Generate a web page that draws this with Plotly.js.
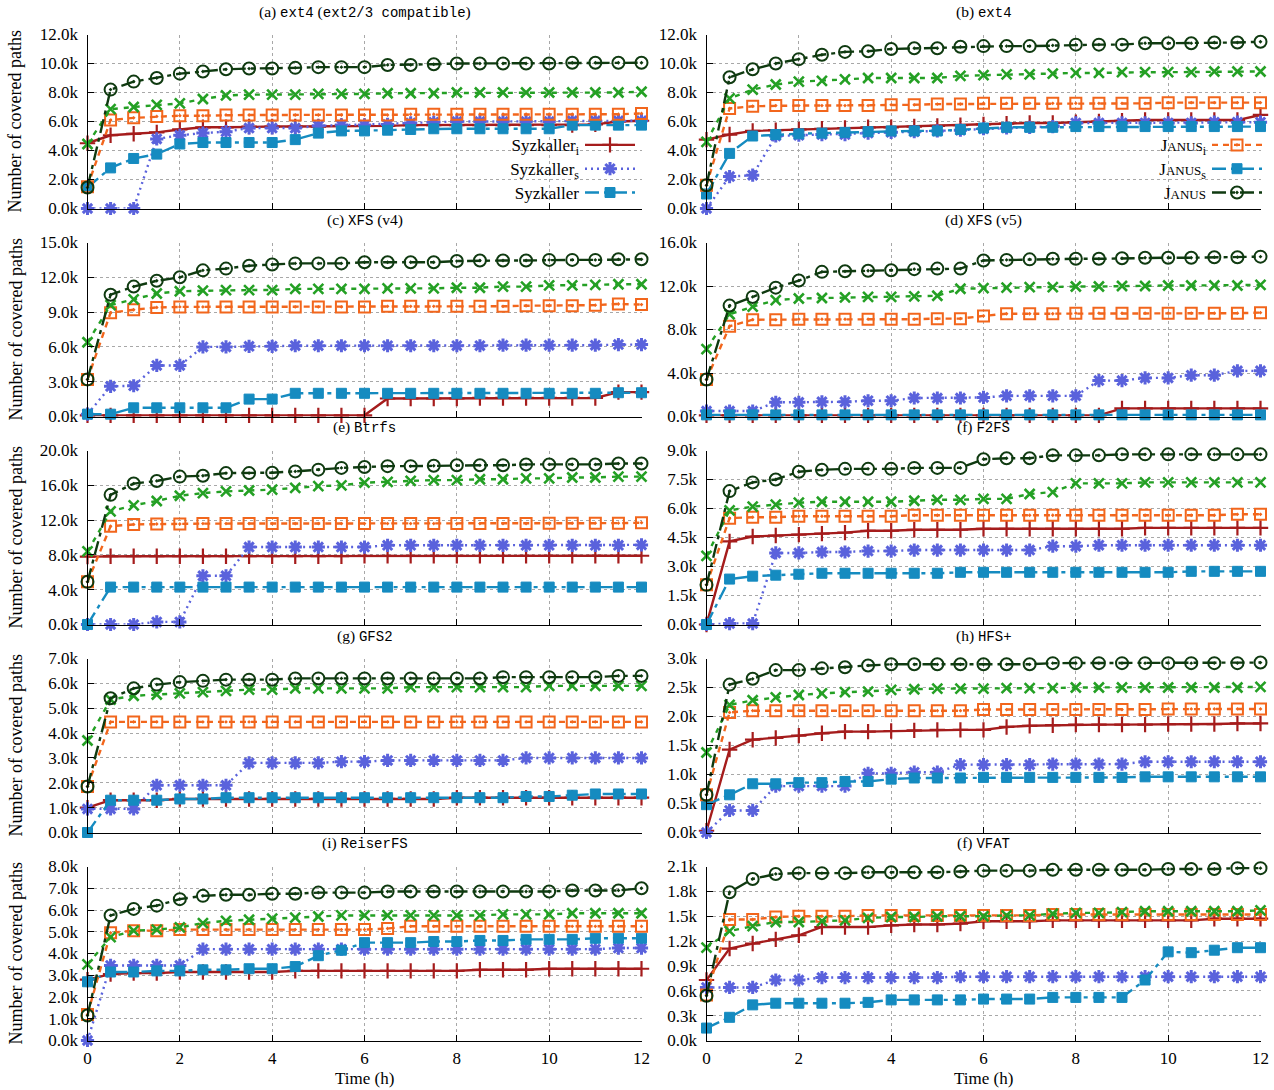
<!DOCTYPE html>
<html><head><meta charset="utf-8">
<script src="https://cdn.plot.ly/plotly-3.0.1.min.js"></script>
<style>html,body{margin:0;padding:0;background:#fff}#chart{width:1274px;height:1090px}</style>
</head><body><div id="chart"></div>
<script>
// ---------------- DATA (values in thousands of covered paths) ----------------
const timeH = [0,0.5,1,1.5,2,2.5,3,3.5,4,4.5,5,5.5,6,6.5,7,7.5,8,8.5,9,9.5,10,10.5,11,11.5,12];

// (a) ext4 (ext2/3 compatible)
const ext4c_syzI = [4.5,5.05,5.15,5.25,5.45,5.6,5.6,5.65,5.65,5.65,5.65,5.7,5.7,5.7,5.75,5.75,5.75,5.75,5.75,5.75,5.75,5.75,5.8,6.0,6.05];
const ext4c_syzS = [0,0,0,4.8,5.05,5.2,5.3,5.55,5.55,5.55,5.7,5.75,5.75,5.8,5.9,5.95,6.0,6.0,6.0,6.0,6.0,6.05,6.05,6.05,6.05];
const ext4c_syz  = [1.45,2.8,3.45,3.75,4.45,4.55,4.55,4.55,4.55,4.75,5.2,5.35,5.35,5.4,5.45,5.5,5.5,5.5,5.5,5.5,5.5,5.75,5.75,5.75,5.75];
const ext4c_janI = [1.5,6.1,6.25,6.35,6.4,6.4,6.45,6.45,6.45,6.45,6.45,6.45,6.45,6.45,6.5,6.5,6.5,6.5,6.5,6.5,6.5,6.5,6.5,6.5,6.55];
const ext4c_janS = [4.45,6.85,7.0,7.15,7.25,7.55,7.8,7.85,7.85,7.85,7.9,7.9,7.9,7.95,7.95,7.95,8.0,8.0,8.0,8.0,8.0,8.0,8.0,8.0,8.05];
const ext4c_jan  = [1.45,8.2,8.75,9.0,9.3,9.45,9.6,9.65,9.65,9.7,9.75,9.75,9.75,9.9,9.9,9.95,10.0,10.0,10.0,10.0,10.0,10.05,10.05,10.05,10.05];

// (b) ext4
const ext4_syzI = [4.75,5.1,5.35,5.4,5.45,5.5,5.55,5.6,5.6,5.65,5.7,5.75,5.8,5.85,5.9,5.9,5.95,6.0,6.05,6.1,6.1,6.1,6.1,6.1,6.45];
const ext4_syzS = [0,2.2,2.3,5.0,5.05,5.1,5.1,5.2,5.25,5.3,5.35,5.4,5.5,5.55,5.6,5.65,5.9,5.9,5.9,5.9,5.9,5.9,5.95,5.95,5.95];
const ext4_syz  = [1.0,3.8,5.0,5.1,5.15,5.2,5.25,5.3,5.35,5.35,5.35,5.45,5.55,5.6,5.6,5.6,5.65,5.65,5.65,5.65,5.65,5.65,5.65,5.65,5.65];
const ext4_janI = [1.6,6.9,7.05,7.1,7.1,7.1,7.1,7.1,7.15,7.15,7.2,7.2,7.25,7.25,7.25,7.25,7.25,7.25,7.25,7.25,7.3,7.3,7.3,7.3,7.3];
const ext4_janS = [4.6,7.6,8.2,8.55,8.75,8.8,8.9,9.0,9.0,9.0,9.0,9.15,9.2,9.25,9.25,9.3,9.35,9.35,9.4,9.4,9.4,9.4,9.45,9.45,9.45];
const ext4_jan  = [1.6,9.05,9.6,10.0,10.3,10.6,10.8,10.85,11.0,11.05,11.05,11.15,11.2,11.2,11.2,11.25,11.3,11.3,11.3,11.4,11.4,11.4,11.45,11.45,11.5];

// (c) XFS (v4)
const xfs4_syzI = [0.1,0.1,0.1,0.1,0.1,0.1,0.1,0.1,0.1,0.1,0.1,0.1,0.1,1.55,1.55,1.55,1.55,1.6,1.6,1.6,1.6,1.6,1.6,2.1,2.1];
const xfs4_syzS = [0.2,2.6,2.65,4.4,4.4,6.0,6.0,6.05,6.05,6.1,6.1,6.1,6.1,6.1,6.1,6.1,6.1,6.1,6.15,6.15,6.15,6.15,6.15,6.2,6.2];
const xfs4_syz  = [0.2,0.2,0.75,0.75,0.75,0.75,0.75,1.5,1.5,2.0,2.0,2.0,2.0,2.0,2.0,2.0,2.0,2.0,2.0,2.0,2.0,2.0,2.0,2.05,2.05];
const xfs4_janI = [3.2,8.95,9.2,9.4,9.45,9.45,9.45,9.45,9.45,9.45,9.45,9.45,9.45,9.5,9.5,9.5,9.5,9.5,9.5,9.55,9.55,9.55,9.6,9.7,9.65];
const xfs4_janS = [6.4,9.6,10.1,10.6,10.8,10.85,10.9,10.9,10.9,11.0,11.0,11.0,11.0,11.05,11.05,11.05,11.1,11.1,11.2,11.2,11.3,11.3,11.35,11.4,11.4];
const xfs4_jan  = [3.2,10.5,11.2,11.7,12.0,12.6,12.75,13.0,13.1,13.2,13.2,13.2,13.3,13.3,13.3,13.3,13.4,13.45,13.45,13.45,13.5,13.5,13.5,13.55,13.55];

// (d) XFS (v5)
const xfs5_syzI = [0.1,0.1,0.1,0.1,0.1,0.1,0.1,0.1,0.1,0.1,0.1,0.1,0.1,0.1,0.1,0.1,0.1,0.1,0.75,0.75,0.75,0.75,0.75,0.75,0.75];
const xfs5_syzS = [0.5,0.5,0.5,1.3,1.3,1.35,1.35,1.45,1.45,1.7,1.7,1.7,1.75,1.9,1.9,1.9,1.9,3.3,3.3,3.55,3.55,3.8,3.8,4.2,4.2];
const xfs5_syz  = [0.15,0.15,0.15,0.15,0.15,0.15,0.15,0.15,0.15,0.15,0.15,0.15,0.15,0.15,0.15,0.15,0.15,0.15,0.15,0.15,0.15,0.15,0.15,0.15,0.15];
const xfs5_janI = [3.4,8.3,8.9,8.9,8.95,8.95,8.95,8.95,8.95,8.95,9.0,9.0,9.25,9.45,9.45,9.45,9.5,9.5,9.5,9.5,9.5,9.5,9.5,9.5,9.55];
const xfs5_janS = [6.2,9.4,10.1,10.7,10.85,10.9,10.95,11.0,11.0,11.05,11.1,11.75,11.8,11.85,11.9,11.9,11.95,11.95,12.0,12.0,12.05,12.05,12.05,12.05,12.1];
const xfs5_jan  = [3.4,10.2,11.0,11.85,12.5,13.3,13.35,13.4,13.45,13.55,13.6,13.6,14.35,14.4,14.45,14.5,14.5,14.5,14.55,14.6,14.6,14.6,14.65,14.65,14.7];

// (e) Btrfs
const btrfs_syzI = [7.8,7.85,7.85,7.85,7.85,7.85,7.85,7.85,7.85,7.85,7.85,7.85,7.9,7.9,7.9,7.9,7.9,7.9,7.9,7.9,7.9,7.9,7.9,7.9,7.9];
const btrfs_syzS = [0,0,0,0.3,0.3,5.6,5.6,8.9,8.9,8.9,8.9,8.9,8.9,9.1,9.1,9.1,9.1,9.1,9.1,9.1,9.1,9.1,9.1,9.1,9.15];
const btrfs_syz  = [0,4.3,4.3,4.3,4.3,4.3,4.3,4.3,4.3,4.3,4.3,4.3,4.3,4.3,4.3,4.3,4.3,4.3,4.3,4.3,4.3,4.3,4.3,4.3,4.3];
const btrfs_janI = [4.9,11.3,11.5,11.55,11.55,11.6,11.6,11.6,11.6,11.6,11.6,11.6,11.6,11.6,11.6,11.6,11.6,11.6,11.6,11.6,11.65,11.65,11.65,11.65,11.7];
const btrfs_janS = [8.4,13.0,13.7,14.2,14.8,15.1,15.3,15.4,15.5,15.7,15.9,16.0,16.3,16.4,16.5,16.6,16.6,16.7,16.7,16.8,16.8,16.9,16.9,17.0,17.0];
const btrfs_jan  = [4.9,14.9,16.2,16.5,17.0,17.1,17.4,17.4,17.45,17.6,17.8,18.0,18.1,18.2,18.2,18.25,18.3,18.3,18.3,18.4,18.4,18.4,18.4,18.5,18.5];

// (f) F2FS
const f2fs_syzI = [0,4.3,4.55,4.6,4.65,4.7,4.75,4.85,4.85,4.9,4.9,4.9,4.95,4.95,4.95,4.95,4.95,4.95,4.95,5.0,5.0,5.0,5.0,5.0,5.0];
const f2fs_syzS = [0,0.05,0.05,3.7,3.7,3.75,3.75,3.8,3.8,3.85,3.85,3.85,3.85,3.85,3.85,4.05,4.05,4.1,4.1,4.1,4.1,4.1,4.1,4.1,4.1];
const f2fs_syz  = [0,2.35,2.5,2.55,2.6,2.65,2.65,2.65,2.65,2.65,2.65,2.7,2.7,2.7,2.7,2.7,2.7,2.7,2.7,2.7,2.7,2.75,2.75,2.75,2.75];
const f2fs_janI = [2.05,5.5,5.55,5.55,5.6,5.6,5.6,5.6,5.6,5.65,5.65,5.65,5.65,5.65,5.65,5.65,5.65,5.65,5.65,5.65,5.65,5.65,5.65,5.7,5.7];
const f2fs_janS = [3.55,5.9,6.1,6.2,6.3,6.35,6.35,6.35,6.35,6.4,6.45,6.45,6.5,6.5,6.75,6.85,7.3,7.3,7.3,7.35,7.35,7.35,7.35,7.35,7.35];
const f2fs_jan  = [2.05,6.9,7.35,7.5,7.9,8.0,8.05,8.05,8.05,8.1,8.1,8.1,8.55,8.6,8.6,8.75,8.75,8.75,8.8,8.8,8.8,8.8,8.8,8.8,8.8];

// (g) GFS2
const gfs2_syzI = [1.0,1.3,1.3,1.3,1.35,1.35,1.35,1.35,1.35,1.35,1.35,1.35,1.35,1.35,1.35,1.35,1.4,1.4,1.4,1.4,1.4,1.4,1.4,1.4,1.4];
const gfs2_syzS = [0.95,0.95,0.95,1.9,1.9,1.9,1.9,2.8,2.8,2.8,2.8,2.85,2.85,2.9,2.9,2.9,2.9,2.9,2.9,3.0,3.0,3.0,3.0,3.0,3.0];
const gfs2_syz  = [0,1.3,1.3,1.3,1.35,1.35,1.4,1.4,1.4,1.4,1.4,1.4,1.4,1.4,1.4,1.4,1.4,1.4,1.4,1.45,1.45,1.5,1.55,1.55,1.55];
const gfs2_janI = [1.85,4.45,4.45,4.45,4.45,4.45,4.45,4.45,4.45,4.45,4.45,4.45,4.45,4.45,4.45,4.45,4.45,4.45,4.45,4.45,4.45,4.45,4.45,4.45,4.45];
const gfs2_janS = [3.7,5.35,5.5,5.55,5.6,5.65,5.7,5.75,5.75,5.8,5.8,5.8,5.8,5.8,5.85,5.85,5.85,5.85,5.85,5.85,5.9,5.9,5.9,5.9,5.9];
const gfs2_jan  = [1.85,5.4,5.8,5.95,6.05,6.1,6.15,6.15,6.15,6.2,6.2,6.2,6.2,6.2,6.2,6.2,6.2,6.2,6.25,6.25,6.25,6.25,6.25,6.3,6.3];

// (h) HFS+
const hfsp_syzI = [0.03,1.43,1.6,1.63,1.67,1.71,1.74,1.74,1.75,1.76,1.77,1.77,1.77,1.82,1.84,1.85,1.86,1.86,1.86,1.86,1.87,1.87,1.87,1.88,1.88];
const hfsp_syzS = [0.0,0.38,0.38,0.8,0.8,0.8,0.8,1.02,1.02,1.04,1.04,1.17,1.17,1.17,1.17,1.18,1.18,1.18,1.18,1.22,1.22,1.22,1.22,1.22,1.22];
const hfsp_syz  = [0.48,0.65,0.84,0.84,0.86,0.86,0.88,0.88,0.92,0.94,0.94,0.94,0.95,0.95,0.95,0.95,0.95,0.95,0.95,0.96,0.96,0.96,0.96,0.96,0.96];
const hfsp_janI = [0.65,2.07,2.1,2.1,2.1,2.1,2.1,2.1,2.1,2.1,2.1,2.1,2.12,2.12,2.12,2.12,2.12,2.12,2.12,2.12,2.13,2.13,2.13,2.13,2.13];
const hfsp_janS = [1.38,2.2,2.28,2.33,2.37,2.4,2.42,2.43,2.46,2.47,2.48,2.48,2.48,2.49,2.49,2.49,2.5,2.5,2.5,2.5,2.5,2.5,2.5,2.5,2.51];
const hfsp_jan  = [0.65,2.55,2.65,2.8,2.8,2.83,2.85,2.88,2.9,2.9,2.9,2.9,2.9,2.9,2.9,2.92,2.92,2.92,2.92,2.92,2.92,2.92,2.92,2.92,2.93];

// (i) ReiserFS
const reiser_syzI = [2.8,3.05,3.1,3.1,3.15,3.15,3.15,3.15,3.15,3.2,3.2,3.2,3.2,3.2,3.2,3.2,3.2,3.25,3.25,3.25,3.3,3.3,3.3,3.3,3.3];
const reiser_syzS = [0.0,3.45,3.45,3.45,3.45,4.2,4.2,4.2,4.2,4.2,4.2,4.2,4.2,4.2,4.2,4.2,4.2,4.2,4.2,4.2,4.2,4.2,4.2,4.25,4.25];
const reiser_syz  = [2.7,3.15,3.15,3.2,3.2,3.25,3.25,3.3,3.3,3.4,3.9,4.15,4.5,4.5,4.5,4.55,4.55,4.6,4.6,4.65,4.65,4.65,4.7,4.7,4.7];
const reiser_janI = [1.2,4.95,5.05,5.05,5.1,5.1,5.1,5.1,5.1,5.1,5.1,5.1,5.1,5.15,5.25,5.25,5.25,5.25,5.25,5.25,5.25,5.25,5.25,5.25,5.25];
const reiser_janS = [3.5,4.75,5.05,5.1,5.2,5.4,5.5,5.55,5.6,5.65,5.7,5.75,5.75,5.75,5.75,5.75,5.75,5.75,5.8,5.8,5.8,5.85,5.85,5.85,5.85];
const reiser_jan  = [1.15,5.75,6.05,6.2,6.5,6.65,6.7,6.7,6.75,6.75,6.8,6.8,6.8,6.85,6.85,6.85,6.85,6.85,6.85,6.85,6.85,6.9,6.9,6.9,7.0];

// (f) VFAT
const vfat_syzI = [0.73,1.11,1.17,1.22,1.27,1.37,1.37,1.37,1.39,1.4,1.4,1.41,1.44,1.44,1.44,1.45,1.45,1.45,1.45,1.45,1.45,1.45,1.47,1.47,1.47];
const vfat_syzS = [0.64,0.64,0.64,0.73,0.73,0.76,0.76,0.76,0.76,0.76,0.76,0.77,0.77,0.77,0.77,0.77,0.77,0.77,0.77,0.77,0.77,0.77,0.77,0.77,0.77];
const vfat_syz  = [0.15,0.28,0.43,0.45,0.45,0.45,0.45,0.46,0.49,0.49,0.49,0.49,0.5,0.5,0.5,0.52,0.52,0.52,0.52,0.73,1.07,1.06,1.09,1.12,1.12];
const vfat_janI = [0.55,1.46,1.46,1.49,1.5,1.5,1.5,1.51,1.51,1.51,1.51,1.51,1.51,1.51,1.51,1.52,1.52,1.52,1.52,1.52,1.52,1.52,1.52,1.52,1.52];
const vfat_janS = [1.12,1.32,1.38,1.43,1.43,1.44,1.45,1.48,1.49,1.49,1.5,1.5,1.5,1.51,1.51,1.53,1.54,1.54,1.55,1.56,1.56,1.56,1.56,1.56,1.57];
const vfat_jan  = [0.54,1.79,1.95,2.01,2.02,2.02,2.02,2.03,2.03,2.03,2.03,2.04,2.05,2.05,2.05,2.06,2.06,2.06,2.06,2.06,2.07,2.07,2.07,2.08,2.08];

// Panel labels and y-axis ranges (k)
const panelLetters = ['(a)','(b)','(c)','(d)','(e)','(f)','(g)','(h)','(i)','(f)'];
const panelFsName  = ['ext4','ext4','XFS','XFS','Btrfs','F2FS','GFS2','HFS+','ReiserFS','VFAT'];
const panelFsNote  = ['(ext2/3 compatible)','','(v4)','(v5)','','','','','',''];
const yMaxK  = [12, 12, 15, 16, 20, 9, 7, 3, 8, 2.1];
const yStepK = [2, 2, 3, 4, 4, 1.5, 1, 0.5, 1, 0.3];
const xTickVals = [0,2,4,6,8,10,12];
const xTickText = ['0','2','4','6','8','10','12'];
const yAxisTitle = 'Number of covered paths';
const xAxisTitle = 'Time (h)';
const subI = '<span style="font-size:12px;baseline-shift:-4px">i</span>';
const subS = '<span style="font-size:12px;baseline-shift:-4px">s</span>';
const janus = 'J<span style="font-size:13px">ANUS</span>';
const legendLeftNames  = ['<span style="font-size:17px">Syzkaller' + subI + '</span>', '<span style="font-size:17px">Syzkaller' + subS + '</span>', '<span style="font-size:17px">Syzkaller</span>'];
const legendRightNames = ['<span style="font-size:17px">' + janus + subI + '</span>', '<span style="font-size:17px">' + janus + subS + '</span>', '<span style="font-size:17px">' + janus + '</span>'];

const panelSeries = [
  [ext4c_syzI,ext4c_syzS,ext4c_syz,ext4c_janI,ext4c_janS,ext4c_jan],
  [ext4_syzI,ext4_syzS,ext4_syz,ext4_janI,ext4_janS,ext4_jan],
  [xfs4_syzI,xfs4_syzS,xfs4_syz,xfs4_janI,xfs4_janS,xfs4_jan],
  [xfs5_syzI,xfs5_syzS,xfs5_syz,xfs5_janI,xfs5_janS,xfs5_jan],
  [btrfs_syzI,btrfs_syzS,btrfs_syz,btrfs_janI,btrfs_janS,btrfs_jan],
  [f2fs_syzI,f2fs_syzS,f2fs_syz,f2fs_janI,f2fs_janS,f2fs_jan],
  [gfs2_syzI,gfs2_syzS,gfs2_syz,gfs2_janI,gfs2_janS,gfs2_jan],
  [hfsp_syzI,hfsp_syzS,hfsp_syz,hfsp_janI,hfsp_janS,hfsp_jan],
  [reiser_syzI,reiser_syzS,reiser_syz,reiser_janI,reiser_janS,reiser_jan],
  [vfat_syzI,vfat_syzS,vfat_syz,vfat_janI,vfat_janS,vfat_jan]
];
const seriesNames = ['Syzkaller_i','Syzkaller_s','Syzkaller','JANUS_i','JANUS_s','JANUS'];

// ---------------- STYLE ----------------
const seriesStyle = [
  {color:'#a51c1c', dash:'solid',            symbol:'cross-thin-open', size:11, mlw:2.2},
  {color:'#5a62dc', dash:'2px,4px',          symbol:'asterisk-open',   size:11, mlw:3},
  {color:'#158bc0', dash:'14px,5px,4px,5px', symbol:'square',          size:10, mlw:1},
  {color:'#f2661c', dash:'6px,5px',          symbol:'square-open-dot', size:11, mlw:2},
  {color:'#24a024', dash:'5px,6px',          symbol:'x-thin-open',     size:10, mlw:2.6},
  {color:'#0f3a10', dash:'14px,5px,4px,5px', symbol:'circle-open-dot', size:12, mlw:2}
];
const W = 1274, H = 1090;
const colLeftPx = [87.5, 706.5], plotWPx = 554;
const rowTopPx0 = 34.5, rowPitch = 208, plotHPx = 174;
const serif = 'Liberation Serif, Times New Roman, serif';
const mono = 'Liberation Mono, DejaVu Sans Mono, monospace';

const traces = [];
const layout = {
  width: W, height: H, margin:{l:0,r:0,t:0,b:0, autoexpand:false},
  paper_bgcolor:'#fff', plot_bgcolor:'#fff',
  font:{family:serif, size:17, color:'#000'},
  showlegend:true, annotations:[]
};
const px = v => v / W, py = v => 1 - v / H;

for (let p = 0; p < 10; p++) {
  const col = p % 2, row = Math.floor(p / 2), k = p + 1;
  const left = colLeftPx[col], top = rowTopPx0 + row * rowPitch;
  const xa = k === 1 ? 'xaxis' : 'xaxis' + k, ya = k === 1 ? 'yaxis' : 'yaxis' + k;
  const xr = k === 1 ? 'x' : 'x' + k, yr = k === 1 ? 'y' : 'y' + k;
  const nT = Math.round(yMaxK[p] / yStepK[p]);
  const yTicks = [], yText = [];
  for (let i = 0; i <= nT; i++) { const v = +(i * yStepK[p]).toFixed(3); yTicks.push(v); yText.push(v.toFixed(1) + 'k'); }
  const common = {showline:true, linecolor:'#000', linewidth:1, mirror:false, ticks:'inside', ticklen:6, tickwidth:1, tickcolor:'#000',
    showgrid:true, gridcolor:'#a8a8a8', griddash:'dot', gridwidth:1, zeroline:false, fixedrange:true,
    tickfont:{family:serif, size:17, color:'#000'}};
  layout[xa] = Object.assign({}, common, {domain:[px(left), px(left + plotWPx)], anchor:yr, range:[0,12],
    tickmode:'array', tickvals:xTickVals, ticktext:xTickText, showticklabels: row === 4, ticklabelstandoff:2});
  layout[ya] = Object.assign({}, common, {domain:[py(top + plotHPx), py(top)], anchor:xr, range:[0, yMaxK[p]],
    tickmode:'array', tickvals:yTicks, ticktext:yText, ticklabelstandoff:5});
  for (let s = 0; s < 6; s++) {
    const st = seriesStyle[s];
    traces.push({x: timeH, y: panelSeries[p][s], xaxis:xr, yaxis:yr, type:'scatter', mode:'lines+markers',
      name: seriesNames[s], showlegend:false, cliponaxis:false,
      line:{color:st.color, width:2.4, dash:st.dash},
      marker:{symbol:st.symbol, size:st.size, color:st.color, line:{color:st.color, width:st.mlw}}});
  }
  // panel title
  let t = panelLetters[p] + ' <span style="font-family:' + mono + ';font-size:14px">' + panelFsName[p] + '</span>';
  if (panelFsNote[p]) {
    if (p === 0) t += ' (<span style="font-family:' + mono + ';font-size:14px">ext2/3 compatible</span>)';
    else t += ' ' + panelFsNote[p];
  }
  layout.annotations.push({text:t, xref:'paper', yref:'paper', x:px(left + plotWPx/2), y:py(top - 23), showarrow:false,
    xanchor:'center', yanchor:'middle', font:{family:serif, size:15.5, color:'#000'}});
  if (col === 0) {
    layout.annotations.push({text:yAxisTitle, xref:'paper', yref:'paper', x:px(15), y:py(top + plotHPx/2), textangle:-90,
      showarrow:false, xanchor:'center', yanchor:'middle', font:{family:serif, size:18, color:'#000'}});
  }
  if (row === 4) {
    layout.annotations.push({text:xAxisTitle, xref:'paper', yref:'paper', x:px(left + plotWPx/2), y:py(1078), showarrow:false,
      xanchor:'center', yanchor:'middle', font:{family:serif, size:17, color:'#000'}});
  }
}

// legend keys (no data of their own), drawn like the reference key
const legendSampleStyles = [[0,1,2],[3,2,5]];
const legendTexts = [legendLeftNames, legendRightNames];
['legend','legend2'].forEach((lg, li) => {
  legendSampleStyles[li].forEach((sIdx, j) => {
    const st = seriesStyle[sIdx];
    traces.push({x:[null], y:[null], type:'scatter', mode:'lines+markers', name:legendTexts[li][j], legend:lg, showlegend:true,
      legendgroup: lg + j, line:{color:st.color, width:2.4, dash:st.dash},
      marker:{symbol:st.symbol, size:st.size, color:st.color, line:{color:st.color, width:st.mlw}}});
  });
});
const legCommon = {bgcolor:'rgba(0,0,0,0)', borderwidth:0, font:{family:serif, size:16, color:'#000'}, itemwidth:50,
  tracegroupgap:0, traceorder:'grouped', xanchor:'left', yanchor:'top'};
layout.legend  = Object.assign({}, legCommon, {x:px(580), y:py(128)});
layout.legend2 = Object.assign({}, legCommon, {x:px(1207), y:py(128)});

const gd = document.getElementById('chart');
function gnuplotKey() {
  // gnuplot-style key: text to the left of the sample
  gd.querySelectorAll('.scrollbox').forEach(e => e.removeAttribute('clip-path'));
  gd.querySelectorAll('text.legendtext, text.legend2text').forEach(t => {
    if (t.getAttribute('text-anchor') === 'end' && t.getAttribute('x') === '-1') return;
    t.setAttribute('text-anchor', 'end');
    t.setAttribute('x', '-1');
    t.querySelectorAll('tspan[x]').forEach(ts => ts.setAttribute('x', '-1'));
  });
  gd.querySelectorAll('svg tspan').forEach(t => { if (!t.textContent.replace(/\u200b/g, '').trim()) t.remove(); });
  gd.querySelectorAll('svg text').forEach(t => { if (!t.textContent.replace(/\u200b/g, '').trim()) t.remove(); });
}
Plotly.newPlot(gd, traces, layout, {displayModeBar:false, staticPlot:true}).then(() => {
  gnuplotKey();
  gd.on('plotly_afterplot', gnuplotKey);
  setTimeout(gnuplotKey, 50);
  setTimeout(gnuplotKey, 300);
});
</script>
</body></html>
